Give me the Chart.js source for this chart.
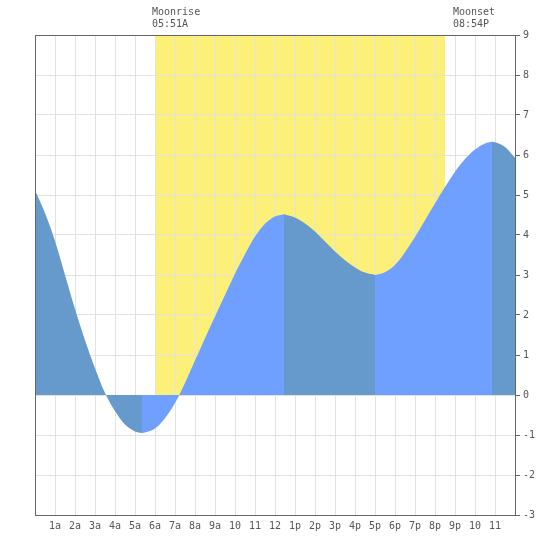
<!DOCTYPE html>
<html>
<head>
<meta charset="utf-8">
<script src="https://cdn.jsdelivr.net/npm/chart.js@4/dist/chart.umd.min.js"></script>
<style>
  body { margin: 0; background: #fff; }
</style>
</head>
<body>
<canvas id="tideChart" width="550" height="550"></canvas>
<script>
// tide heights, hour of day -> height
const hours = [0, 0.5, 1, 1.5, 2, 2.5, 3, 3.5, 4, 4.5, 5, 5.35, 5.5, 6, 6.5, 7, 7.5, 8, 8.5, 9, 9.5, 10, 10.5, 11, 11.5, 12, 12.45,
    13, 13.5, 14, 14.5, 15, 15.5, 16, 16.5, 17, 17.5, 18, 18.5, 19, 19.5, 20, 20.5, 21, 21.5, 22, 22.5, 22.85, 23, 23.5, 24];
const heights = [5.12, 4.55, 3.85, 3.0, 2.15, 1.37, 0.67, 0.05, -0.4, -0.74, -0.91, -0.95, -0.94, -0.84, -0.58, -0.2, 0.3, 0.86, 1.42, 1.96, 2.5, 3.03, 3.52, 3.96, 4.28, 4.46, 4.52,
    4.44, 4.29, 4.09, 3.84, 3.59, 3.37, 3.19, 3.06, 3.0, 3.07, 3.25, 3.57, 3.95, 4.37, 4.79, 5.2, 5.58, 5.9, 6.14, 6.29, 6.33, 6.32, 6.2, 5.93];

// high / low tide times, where the fill colour switches
const turnHours = [5.35, 12.45, 17, 22.85];
const fillColors = ['#6699cc', '#6f9fff'];

const xTickLabels = ['', '1a', '2a', '3a', '4a', '5a', '6a', '7a', '8a', '9a', '10', '11', '12',
    '1p', '2p', '3p', '4p', '5p', '6p', '7p', '8p', '9p', '10', '11', ''];

const moonrise = { hour: 5.85, label: 'Moonrise', time: '05:51A' };
const moonset = { hour: 20.9, label: 'Moonset', time: '08:54P' };
const moonBand = [6.0, 20.5];

// split the curve into falling / rising pieces
const bounds = [0, ...turnHours, 24];
const datasets = [];
for (let i = 0; i < bounds.length - 1; i++) {
    const pts = [];
    hours.forEach((h, j) => {
        if (h >= bounds[i] && h <= bounds[i + 1]) pts.push({ x: h, y: heights[j] });
    });
    datasets.push({
        data: pts,
        fill: 'origin',
        backgroundColor: fillColors[i % 2],
        borderWidth: 0,
        pointRadius: 0,
        cubicInterpolationMode: 'monotone'
    });
}

const moonPlugin = {
    id: 'moonPlugin',
    beforeDraw(chart) {
        const ctx = chart.ctx;
        const area = chart.chartArea;
        const x = chart.scales.x;
        const y = chart.scales.y;
        ctx.save();
        ctx.fillStyle = '#fff';
        ctx.fillRect(0, 0, chart.width, chart.height);
        ctx.fillStyle = '#fdf078';
        const x0 = Math.round(x.getPixelForValue(moonBand[0]));
        const x1 = Math.round(x.getPixelForValue(moonBand[1]));
        const y0 = Math.round(y.getPixelForValue(0));
        ctx.fillRect(x0, area.top, x1 - x0, y0 - area.top);
        ctx.restore();
    },
    afterDatasetsDraw(chart) {
        const ctx = chart.ctx;
        const a = chart.chartArea;
        ctx.save();
        ctx.strokeStyle = '#666';
        ctx.lineWidth = 1;
        ctx.strokeRect(a.left + 0.5, a.top + 0.5, a.right - a.left, a.bottom - a.top);
        ctx.restore();
    },
    afterDraw(chart) {
        const ctx = chart.ctx;
        const x = chart.scales.x;
        ctx.save();
        ctx.font = '10px "DejaVu Sans Mono"';
        ctx.fillStyle = '#555';
        ctx.textAlign = 'left';
        ctx.textBaseline = 'middle';
        [moonrise, moonset].forEach(m => {
            const px = Math.round(x.getPixelForValue(m.hour));
            ctx.fillText(m.label, px, 12);
            ctx.fillText(m.time, px, 24);
        });
        ctx.restore();
    }
};

Chart.defaults.font.family = '"DejaVu Sans Mono"';
Chart.defaults.font.size = 10;
Chart.defaults.color = '#555';

new Chart(document.getElementById('tideChart').getContext('2d'), {
    type: 'line',
    data: { datasets: datasets },
    options: {
        responsive: false,
        devicePixelRatio: 1,
        animation: false,
        layout: { padding: { top: 35, left: 35, right: 0, bottom: 0 } },
        plugins: {
            legend: { display: false },
            tooltip: { enabled: false }
        },
        scales: {
            x: {
                type: 'linear',
                position: 'bottom',
                min: 0,
                max: 24,
                afterFit: s => { s.height = 35; },
                border: { display: false },
                grid: { color: '#e2e2e2', drawTicks: false },
                ticks: {
                    stepSize: 1,
                    autoSkip: false,
                    maxRotation: 0,
                    padding: 5,
                    callback: v => xTickLabels[v]
                }
            },
            y: {
                type: 'linear',
                position: 'right',
                min: -3,
                max: 9,
                afterFit: s => { s.width = 35; },
                border: { display: false },
                grid: { color: '#e2e2e2', tickColor: '#666', tickLength: 5 },
                ticks: { stepSize: 1, padding: 3 }
            }
        }
    },
    plugins: [moonPlugin]
});
</script>
</body>
</html>
